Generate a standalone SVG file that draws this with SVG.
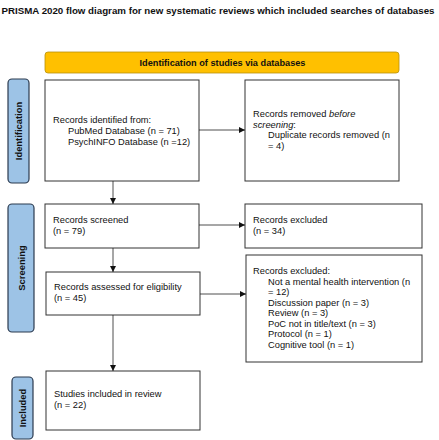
<svg xmlns="http://www.w3.org/2000/svg" width="439" height="440" viewBox="0 0 439 440">
<style>
.box{fill:#fff;stroke:#333;stroke-width:1}
.t{font-family:"Liberation Sans",Arial,sans-serif;font-size:9.3px;fill:#111}
.side{fill:#9DC3E6;stroke:#2b3a4f;stroke-width:1.2}
.sl{font-family:"Liberation Sans",Arial,sans-serif;font-size:9.4px;font-weight:bold;fill:#111}
.c{stroke:#222;stroke-width:0.8;fill:none}
</style>
<defs>
<marker id="ah" viewBox="0 0 10 10" refX="10" refY="5" markerWidth="6" markerHeight="6" markerUnits="userSpaceOnUse" orient="auto">
<path d="M0,0 L10,5 L0,10 z" fill="#111"/>
</marker>
</defs>
<rect width="439" height="440" fill="#fff"/>
<text id="title" x="1.5" y="14" font-family="'Liberation Sans',Arial,sans-serif" font-weight="bold" font-size="9.1" textLength="433" lengthAdjust="spacingAndGlyphs" fill="#111">PRISMA 2020 flow diagram for new systematic reviews which included searches of databases</text>
<g id="header">
<rect x="45" y="52" width="354" height="21" rx="3" fill="#FFC000" stroke="#B8900A" stroke-width="0.8"/>
<text x="222.5" y="66" text-anchor="middle" font-family="'Liberation Sans',Arial,sans-serif" font-weight="bold" font-size="9.2" fill="#111">Identification of studies via databases</text>
</g>
<g id="side-identification">
<rect class="side" x="8" y="79" width="21" height="104" rx="4"/>
<text class="sl" transform="translate(22.3,131) rotate(-90)" text-anchor="middle">Identification</text>
</g>
<g id="side-screening">
<rect class="side" x="8" y="204" width="26" height="128" rx="4"/>
<text class="sl" transform="translate(24.5,268) rotate(-90)" text-anchor="middle">Screening</text>
</g>
<g id="side-included">
<rect class="side" x="12" y="377" width="21" height="62" rx="4"/>
<text class="sl" transform="translate(26,408) rotate(-90)" text-anchor="middle">Included</text>
</g>
<g id="n-identified">
<rect class="box" x="45" y="80" width="154" height="101"/>
<text class="t" x="53" y="123">Records identified from:</text>
<text class="t" x="68" y="134">PubMed Database (n = 71)</text>
<text class="t" x="68" y="144.5">PsychINFO Database (n =12)</text>
</g>
<g id="n-removed">
<rect class="box" x="245" y="80" width="154" height="101"/>
<text class="t" x="253" y="117">Records removed <tspan font-style="italic">before</tspan></text>
<text class="t" x="253" y="127.5"><tspan font-style="italic">screening</tspan>:</text>
<text class="t" x="268" y="138">Duplicate records removed (n</text>
<text class="t" x="268" y="148.5">= 4)</text>
</g>
<g id="n-screened">
<rect class="box" x="45" y="204" width="154" height="44"/>
<text class="t" x="53" y="223">Records screened</text>
<text class="t" x="53" y="234">(n = 79)</text>
</g>
<g id="n-excluded1">
<rect class="box" x="245" y="204" width="177" height="44"/>
<text class="t" x="253" y="223">Records excluded</text>
<text class="t" x="253" y="234">(n = 34)</text>
</g>
<g id="n-assessed">
<rect class="box" x="46" y="272" width="154" height="43"/>
<text class="t" x="54" y="290">Records assessed for eligibility</text>
<text class="t" x="54" y="301">(n = 45)</text>
</g>
<g id="n-excluded2">
<rect class="box" x="246" y="255" width="176" height="107"/>
<text class="t" x="253" y="273.5">Records excluded:</text>
<text class="t" x="268" y="284.5">Not a mental health intervention (n</text>
<text class="t" x="268" y="295">= 12)</text>
<text class="t" x="268" y="305.5">Discussion paper (n = 3)</text>
<text class="t" x="268" y="316">Review (n = 3)</text>
<text class="t" x="268" y="326.5">PoC not in title/text (n = 3)</text>
<text class="t" x="268" y="337">Protocol (n = 1)</text>
<text class="t" x="268" y="347.5">Cognitive tool (n = 1)</text>
</g>
<g id="n-included">
<rect class="box" x="46" y="371" width="154" height="59"/>
<text class="t" x="54" y="397">Studies included in review</text>
<text class="t" x="54" y="407.5">(n = 22)</text>
</g>
<g id="connectors">
<line class="c" x1="199" y1="130" x2="245" y2="130" marker-end="url(#ah)"/>
<line class="c" x1="113" y1="181" x2="113" y2="204" marker-end="url(#ah)"/>
<line class="c" x1="199" y1="225" x2="245" y2="225" marker-end="url(#ah)"/>
<line class="c" x1="113" y1="248" x2="113" y2="272" marker-end="url(#ah)"/>
<line class="c" x1="200" y1="294" x2="246" y2="294" marker-end="url(#ah)"/>
<line class="c" x1="113" y1="315" x2="113" y2="371" marker-end="url(#ah)"/>
</g>
</svg>
